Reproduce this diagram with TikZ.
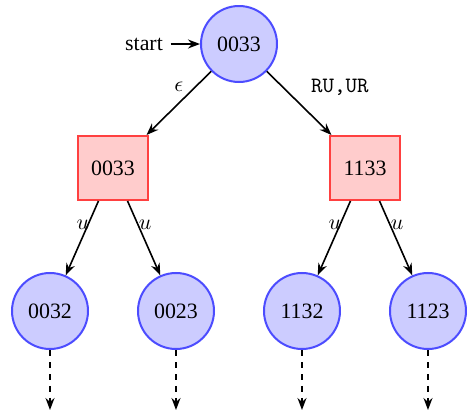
\documentclass[tikz,border=0pt,11pt]{standalone}
\usepackage{fontspec}
\setmainfont{Liberation Serif}
\usetikzlibrary{arrows.meta}
\tikzset{
    statenode/.style={circle, draw=blue!70, fill=blue!20, line width=1pt, minimum size=38pt, inner sep=0pt},
    choicenode/.style={rectangle, draw=red!75, fill=red!20, line width=1pt, minimum width=35pt, minimum height=32pt, inner sep=0pt},
    trans/.style={-{Stealth[length=6pt,width=4.5pt]}, thick},
    hidden/.style={trans, dashed}
}
\begin{document}
\begin{tikzpicture}[x=0.5pt, y=-0.5pt]
        \useasboundingbox (0,0) rectangle (468,413);

        % Root and start arrow
        \node [statenode] (root) at (239,44) {0033};
        \node (start) at (144,44) {start};
        \draw [trans] (start) -- (root);

        % Choice nodes
        \node [choicenode] (chL) at (113,168) {0033};
        \node [choicenode] (chR) at (365,168) {1133};
        \draw [trans] (root) -- (chL) node [midway, above, yshift=2pt] {$\epsilon$};
        \draw [trans] (root) -- (chR) node [midway, above right, xshift=2pt] {\texttt{RU,UR}};

        % Leaves
        \node [statenode] (s1) at (50,311) {0032};
        \node [statenode] (s2) at (176,311) {0023};
        \node [statenode] (s3) at (302,311) {1132};
        \node [statenode] (s4) at (428,311) {1123};
        \draw [trans] (chL) -- (s1) node [pos=0.32, left=-1pt, inner sep=0pt] {$u$};
        \draw [trans] (chL) -- (s2) node [pos=0.32, right=0pt, inner sep=0pt] {$u$};
        \draw [trans] (chR) -- (s3) node [pos=0.32, left=-1pt, inner sep=0pt] {$u$};
        \draw [trans] (chR) -- (s4) node [pos=0.32, right=0pt, inner sep=0pt] {$u$};

        % Further expansion
        \foreach \s/\x in {s1/50, s2/176, s3/302, s4/428} {
            \coordinate (\s-end) at (\x,410);
            \draw [hidden] (\s) -- (\s-end);
        }
\end{tikzpicture}
\end{document}
